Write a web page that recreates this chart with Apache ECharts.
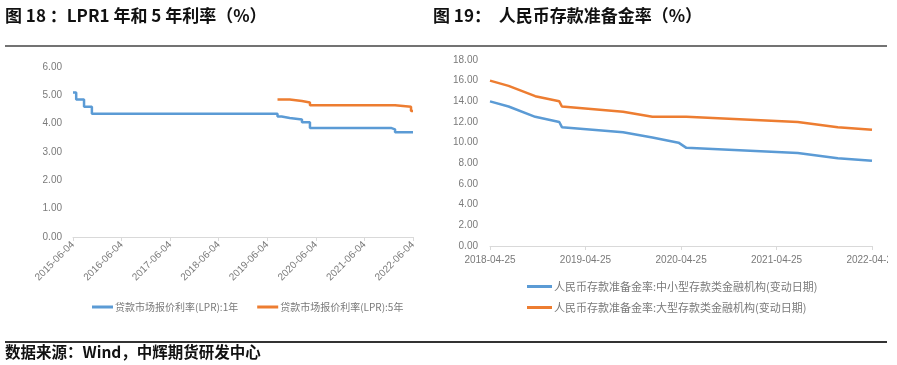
<!DOCTYPE html>
<html>
<head>
<meta charset="utf-8">
<script src="https://cdn.jsdelivr.net/npm/echarts@6/dist/echarts.min.js"></script>
<style>
html,body{margin:0;padding:0;background:#fff;}
#c{width:897px;height:365px;}
</style>
</head>
<body>
<div id="c"></div>
<script>
// ---- Chart 18: LPR ----
var lprTicks = ['2015-06-04','2016-06-04','2017-06-04','2018-06-04','2019-06-04','2020-06-04','2021-06-04','2022-06-04'];
var lpr1Dates = ['2015-06-04','2015-06-28','2015-08-26','2015-10-24','2019-08-20','2019-09-20','2019-11-20','2020-02-20','2020-04-20','2021-12-20','2022-01-20','2022-06-04'];
var lpr1Values = [5.10, 4.85, 4.60, 4.35, 4.25, 4.20, 4.15, 4.05, 3.85, 3.80, 3.70, 3.70];
var lpr5Dates = ['2019-08-20','2019-11-20','2020-02-20','2020-04-20','2022-01-20','2022-05-20','2022-06-04'];
var lpr5Values = [4.85, 4.80, 4.75, 4.65, 4.60, 4.45, 4.45];
var lprNames = ['贷款市场报价利率(LPR):1年', '贷款市场报价利率(LPR):5年'];

// ---- Chart 19: RRR ----
var rrrTicks = ['2018-04-25','2019-04-25','2020-04-25','2021-04-25','2022-04-25'];
var rrrDates = ['2018-04-25','2018-07-05','2018-10-15','2019-01-15','2019-01-25','2019-09-16','2020-01-06','2020-04-15','2020-05-15','2021-07-15','2021-12-15','2022-04-25'];
var rrrSmall = [14.0, 13.5, 12.5, 12.0, 11.5, 11.0, 10.5, 10.0, 9.5, 9.0, 8.5, 8.25];
var rrrLarge = [16.0, 15.5, 14.5, 14.0, 13.5, 13.0, 12.5, 12.5, 12.5, 12.0, 11.5, 11.25];
var rrrNames = ['人民币存款准备金率:中小型存款类金融机构(变动日期)', '人民币存款准备金率:大型存款类金融机构(变动日期)'];

var BLUE = '#5B9BD5', ORANGE = '#ED7D31';

// dates -> day numbers (UTC days since epoch), used on a value axis
function dn(s){ var p = s.split('-'); return Math.round(Date.UTC(+p[0], +p[1]-1, +p[2]) / 86400000); }
function pairs(d, v){ return d.map(function(x,i){ return [dn(x), v[i]]; }); }
function labelMap(arr){ var m = {}; arr.forEach(function(s){ m[dn(s)] = s; }); return m; }
var lprMap = labelMap(lprTicks), rrrMap = labelMap(rrrTicks);

var axisGray = '#d9d9d9', labelGray = '#7a7a7a';
var font = 'Liberation Sans, Arial, Noto Sans CJK SC, sans-serif';
var cjk = 'Noto Sans CJK SC, sans-serif';

var chart = echarts.init(document.getElementById('c'));
chart.setOption({
  animation: false,
  textStyle: { fontFamily: font },
  grid: [
    { left: 73, right: 484, top: 67, bottom: 128, outerBoundsMode: 'none', containLabel: false },
    { left: 490, right: 25, top: 60, bottom: 119, outerBoundsMode: 'none', containLabel: false }
  ],
  xAxis: [
    {
      type: 'value', gridIndex: 0, scale: true,
      min: dn(lprTicks[0]), max: dn(lprTicks[lprTicks.length-1]),
      axisLine: { show: true, onZero: false, lineStyle: { color: axisGray, width: 1 } },
      axisTick: { show: true, length: 4, lineStyle: { color: axisGray }, customValues: lprTicks.map(dn) },
      axisLabel: { rotate: 45, fontSize: 10, color: labelGray, margin: 6, fontFamily: font,
        customValues: lprTicks.map(dn),
        formatter: function(v){ return lprMap[v] || ''; } },
      splitLine: { show: false }
    },
    {
      type: 'value', gridIndex: 1, scale: true,
      min: dn(rrrTicks[0]), max: dn(rrrTicks[rrrTicks.length-1]),
      axisLine: { show: true, onZero: false, lineStyle: { color: axisGray, width: 1 } },
      axisTick: { show: true, length: 4, lineStyle: { color: axisGray }, customValues: rrrTicks.map(dn) },
      axisLabel: { fontSize: 10, color: labelGray, margin: 9, fontFamily: font,
        customValues: rrrTicks.map(dn),
        formatter: function(v){ return rrrMap[v] || ''; } },
      splitLine: { show: false }
    }
  ],
  yAxis: [
    {
      type: 'value', gridIndex: 0, min: 0, max: 6, interval: 1,
      axisLine: { show: false }, axisTick: { show: false }, splitLine: { show: false },
      axisLabel: { fontSize: 10, color: labelGray, margin: 11, fontFamily: font,
        formatter: function(v){ return v.toFixed(2); } }
    },
    {
      type: 'value', gridIndex: 1, min: 0, max: 18, interval: 2,
      axisLine: { show: false }, axisTick: { show: false }, splitLine: { show: false },
      axisLabel: { fontSize: 10, color: labelGray, margin: 12, fontFamily: font,
        formatter: function(v){ return v.toFixed(2); } }
    }
  ],
  legend: [
    {
      data: lprNames, left: 87, top: 297, itemWidth: 21, itemHeight: 3, itemGap: 19,
      icon: 'rect', textStyle: { fontSize: 10, color: labelGray, fontFamily: cjk, padding: [0,0,0,-3] }
    },
    {
      data: rrrNames, orient: 'vertical', left: 522, top: 276, itemWidth: 25, itemHeight: 3, itemGap: 10,
      icon: 'rect', textStyle: { fontSize: 11, color: labelGray, fontFamily: cjk, padding: [0,0,0,-3] }
    }
  ],
  series: [
    { name: lprNames[0], type: 'line', xAxisIndex: 0, yAxisIndex: 0, step: 'end', symbol: 'none',
      lineStyle: { color: BLUE, width: 2.5 }, itemStyle: { color: BLUE }, data: pairs(lpr1Dates, lpr1Values) },
    { name: lprNames[1], type: 'line', xAxisIndex: 0, yAxisIndex: 0, step: 'end', symbol: 'none',
      lineStyle: { color: ORANGE, width: 2.5 }, itemStyle: { color: ORANGE }, data: pairs(lpr5Dates, lpr5Values) },
    { name: rrrNames[0], type: 'line', xAxisIndex: 1, yAxisIndex: 1, symbol: 'none',
      lineStyle: { color: BLUE, width: 2.5 }, itemStyle: { color: BLUE }, data: pairs(rrrDates, rrrSmall) },
    { name: rrrNames[1], type: 'line', xAxisIndex: 1, yAxisIndex: 1, symbol: 'none',
      lineStyle: { color: ORANGE, width: 2.5 }, itemStyle: { color: ORANGE }, data: pairs(rrrDates, rrrLarge) }
  ],
  graphic: [
    { type: 'text', left: 5, top: 7, style: { text: '图 18 ：LPR1 年和 5 年利率（%）', fontSize: 17, fontWeight: 'bold', fill: '#111', fontFamily: cjk } },
    { type: 'text', left: 433, top: 7, style: { text: '图 19：  人民币存款准备金率（%）', fontSize: 17, fontWeight: 'bold', fill: '#111', fontFamily: cjk } },
    { type: 'line', shape: { x1: 5, y1: 46, x2: 887, y2: 46 }, style: { stroke: '#444', lineWidth: 1.3 } },
    { type: 'line', shape: { x1: 5, y1: 342, x2: 887, y2: 342 }, style: { stroke: '#333', lineWidth: 2 } },
    { type: 'rect', z: 100, shape: { x: 888, y: 250, width: 9, height: 20 }, style: { fill: '#fff' } },
    { type: 'text', left: 5, top: 344, style: { text: '数据来源：Wind，中辉期货研发中心', fontSize: 15.5, fontWeight: 'bold', fill: '#111', fontFamily: cjk } }
  ]
});
</script>
</body>
</html>
